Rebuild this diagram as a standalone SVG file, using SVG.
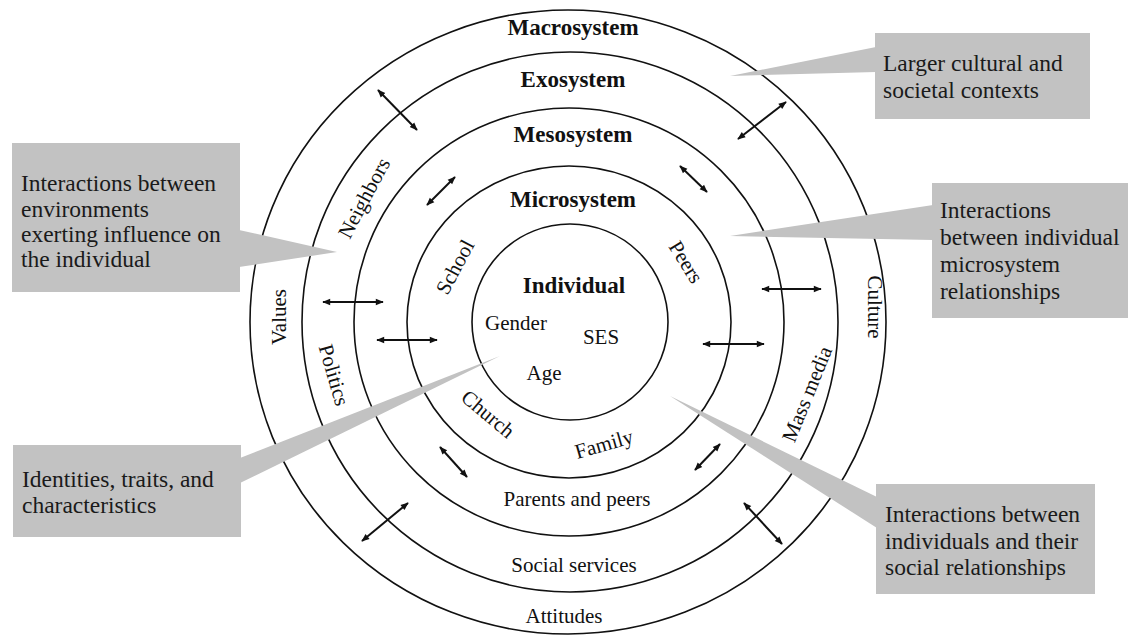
<svg xmlns="http://www.w3.org/2000/svg" width="1131" height="635" viewBox="0 0 1131 635">
<style>
.ring{fill:none;stroke:#111;stroke-width:1.6}
.bold{font-family:"Liberation Serif","Times New Roman",serif;font-weight:bold;font-size:23px;fill:#111;text-anchor:middle}
.lab{font-family:"Liberation Serif","Times New Roman",serif;font-size:21px;fill:#111;text-anchor:middle}
.box{fill:#c2c2c2}
.ct{font-family:"Liberation Serif","Times New Roman",serif;font-size:23.5px;fill:#1a1a1a}
.arr{stroke:#111;stroke-width:2;fill:none;marker-start:url(#ah);marker-end:url(#ah)}
</style>
<defs>
<marker id="ah" viewBox="0 0 10 10" refX="9" refY="5" markerWidth="9" markerHeight="8" markerUnits="userSpaceOnUse" orient="auto-start-reverse">
<path d="M0,1 L10,5 L0,9 z" fill="#111"/>
</marker>
</defs>
<rect width="1131" height="635" fill="#fff"/>

<g id="macrosystem">
<ellipse class="ring" cx="568" cy="322" rx="318" ry="312"/>
<text class="bold" x="573" y="35">Macrosystem</text>
<text class="lab" transform="translate(279,317) rotate(-90)" y="7">Values</text>
<text class="lab" transform="translate(875,307) rotate(90)" y="7">Culture</text>
<text class="lab" x="564" y="623">Attitudes</text>
</g>

<g id="exosystem">
<ellipse class="ring" cx="570" cy="322" rx="268" ry="270"/>
<text class="bold" x="573" y="87">Exosystem</text>
<text class="lab" transform="translate(364,198) rotate(-62)" y="7">Neighbors</text>
<text class="lab" transform="translate(334,375) rotate(74)" y="7">Politics</text>
<text class="lab" transform="translate(807,394) rotate(-68)" y="7">Mass media</text>
<text class="lab" x="574" y="572">Social services</text>
</g>

<g id="mesosystem">
<ellipse class="ring" cx="569" cy="322" rx="215" ry="214"/>
<text class="bold" x="573" y="142">Mesosystem</text>
<text class="lab" x="577" y="506">Parents and peers</text>
</g>

<g id="microsystem">
<ellipse class="ring" cx="569" cy="322" rx="162" ry="156"/>
<text class="bold" x="573" y="207">Microsystem</text>
<text class="lab" transform="translate(455,267) rotate(-62)" y="7">School</text>
<text class="lab" transform="translate(686,262) rotate(58)" y="7">Peers</text>
<text class="lab" transform="translate(488,414) rotate(40)" y="7">Church</text>
<text class="lab" transform="translate(604,444) rotate(-16)" y="7">Family</text>
</g>

<g id="individual">
<ellipse class="ring" cx="570" cy="322" rx="98" ry="98"/>
<text class="bold" x="574" y="293">Individual</text>
<text class="lab" x="516" y="330">Gender</text>
<text class="lab" x="601" y="344">SES</text>
<text class="lab" x="544" y="380">Age</text>
</g>

<g id="connectors">
<line class="arr" x1="378" y1="90" x2="417" y2="130"/>
<line class="arr" x1="427" y1="205" x2="455" y2="177"/>
<line class="arr" x1="738" y1="139" x2="786" y2="102"/>
<line class="arr" x1="680" y1="166" x2="707" y2="192"/>
<line class="arr" x1="323" y1="302" x2="383" y2="302"/>
<line class="arr" x1="377" y1="340" x2="437" y2="340"/>
<line class="arr" x1="762" y1="289" x2="821" y2="289"/>
<line class="arr" x1="703" y1="344" x2="764" y2="344"/>
<line class="arr" x1="440" y1="447" x2="467" y2="477"/>
<line class="arr" x1="362" y1="541" x2="408" y2="503"/>
<line class="arr" x1="695" y1="470" x2="720" y2="444"/>
<line class="arr" x1="744" y1="503" x2="782" y2="544"/>
</g>

<g id="callout-macro">
<polygon class="box" points="876,47 730,76 876,72"/>
<rect class="box" x="875" y="33" width="215" height="86"/>
<text class="ct" x="883" y="71">Larger cultural and</text>
<text class="ct" x="883" y="98">societal contexts</text>
</g>

<g id="callout-exo">
<polygon class="box" points="239,230 337,252 239,267"/>
<rect class="box" x="12" y="143" width="228" height="149"/>
<text class="ct" x="21" y="191">Interactions between</text>
<text class="ct" x="21" y="216.5">environments</text>
<text class="ct" x="21" y="242">exerting influence on</text>
<text class="ct" x="21" y="267">the individual</text>
</g>

<g id="callout-meso">
<polygon class="box" points="933,205 730,236 933,240"/>
<rect class="box" x="932" y="183" width="196" height="135"/>
<text class="ct" x="940" y="218">Interactions</text>
<text class="ct" x="940" y="245">between individual</text>
<text class="ct" x="940" y="272">microsystem</text>
<text class="ct" x="940" y="299">relationships</text>
</g>

<g id="callout-individual">
<polygon class="box" points="240,458 500,356 240,483"/>
<rect class="box" x="13" y="445" width="228" height="92"/>
<text class="ct" x="22" y="487">Identities, traits, and</text>
<text class="ct" x="22" y="513">characteristics</text>
</g>

<g id="callout-micro">
<polygon class="box" points="877,497 670,396 877,528"/>
<rect class="box" x="876" y="484" width="219" height="110"/>
<text class="ct" x="885" y="522">Interactions between</text>
<text class="ct" x="885" y="549">individuals and their</text>
<text class="ct" x="885" y="575">social relationships</text>
</g>
</svg>
